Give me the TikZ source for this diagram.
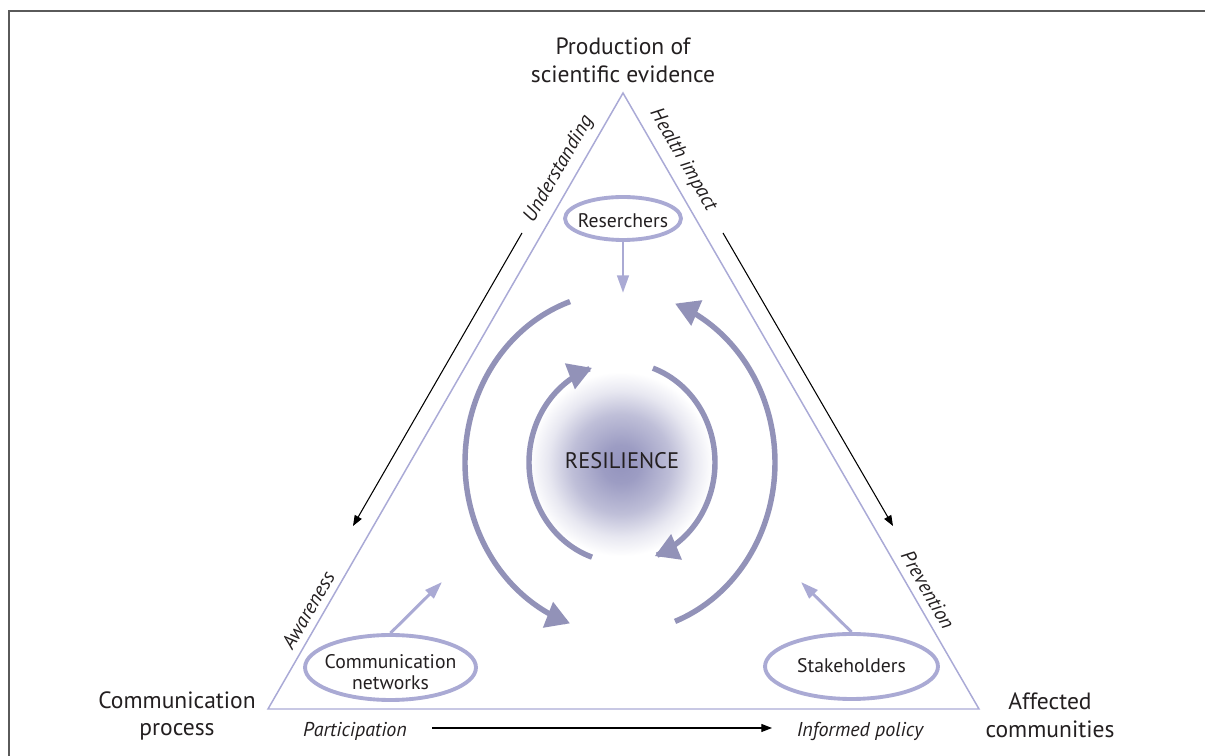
\documentclass[tikz,border=0pt]{standalone}
\usepackage{fontspec}
\setmainfont{PT Sans}
\usetikzlibrary{arrows.meta,shapes.geometric}
\definecolor{edgecol}{HTML}{AAAAD6}
\definecolor{ellcol}{HTML}{AAAAD4}
\definecolor{arccol}{HTML}{9292B8}
\definecolor{txtcol}{HTML}{231F20}
\definecolor{framecol}{HTML}{5A5A5A}
\definecolor{ballcol}{HTML}{9494BE}
\pgfdeclareradialshading{resball}{\pgfpoint{0bp}{0bp}}{color(0bp)=(ballcol); color(5bp)=(ballcol!92!white); color(13bp)=(ballcol!60!white); color(19bp)=(ballcol!22!white); color(24bp)=(white); color(50bp)=(white)}
\tikzset{
  bigtxt/.style={font=\fontsize{13.4}{15.9}\selectfont, text=txtcol, align=center, inner sep=0pt},
  itlab/.style={font=\itshape\fontsize{11.4}{13}\selectfont, text=txtcol, inner sep=0pt},
  actor/.style={ellipse, draw=ellcol, line width=2.2pt, inner sep=0pt},
  actortxt/.style={font=\fontsize{11.2}{11.6}\selectfont, text=txtcol, align=center, inner sep=0pt},
  flowarrow/.style={black, line width=0.6pt, -{Triangle[length=6pt,width=4.5pt]}},
  feedarrow/.style={ellcol, line width=1.7pt, -{Triangle[length=10pt,width=6.5pt]}},
  looparc/.style={arccol, line width=3.1pt, -{Triangle[length=13.5pt,width=15pt]}},
}
\begin{document}
\begin{tikzpicture}[x=0.02cm, y=-0.02cm]
\useasboundingbox (0,0) rectangle (1205,756);
% frame
\draw[framecol, line width=1.1pt] (9,756) -- (9,11) -- (1205,11);
% triangle
\coordinate (apex) at (623,93);
\coordinate (bl) at (268,709);
\coordinate (br) at (979,709);
\draw[edgecol, line width=0.85pt, line join=miter] (apex) -- (br) -- (bl) -- cycle;
% resilience ball
\shade[shading=resball] (621,464) circle[radius=96];
\node[bigtxt, font=\fontsize{12.8}{15}\selectfont] (res) at (622,461) {RESILIENCE};
% corner labels
\node[bigtxt] (prod) at (623,60) {Production of\\scientific evidence};
\node[bigtxt] (comm) at (177,716) {Communication\\process};
\node[bigtxt] (aff) at (1050,715) {Affected\\communities};
% edge labels
\node[itlab, rotate=60] (und) at (559,169) {Understanding};
\node[itlab, rotate=-60] (hea) at (683,160) {Health impact};
\node[itlab, rotate=60] (awa) at (308,610) {Awareness};
\node[itlab, rotate=-60] (pre) at (928,590) {Prevention};
\node[itlab, anchor=base] (par) at (355,737) {Participation};
\node[itlab, anchor=base] (inf) at (860,737) {Informed policy};
% black flow arrows
\coordinate (l1) at (522,233); \coordinate (l2) at (353,526);
\coordinate (r1) at (723,233); \coordinate (r2) at (893,526);
\coordinate (b1) at (432,728); \coordinate (b2) at (772,728);
\draw[flowarrow] (l1) -- (l2);
\draw[flowarrow] (r1) -- (r2);
\draw[flowarrow] (b1) -- (b2);
% actors
\node[actor, minimum width=2.32cm, minimum height=0.86cm] (rsr) at (623,218.5) {};
\node[actortxt] (rsrtxt) at (623,220.5) {Reserchers};
\node[actor, minimum width=3.42cm, minimum height=1.3cm] (cn) at (390.5,667.5) {};
\node[actortxt] (cntxt) at (390.5,672) {Communication\\networks};
\node[actor, minimum width=3.46cm, minimum height=1.3cm] (sh) at (851.5,666.5) {};
\node[actortxt] (shtxt) at (851.5,666) {Stakeholders};
\coordinate (rsrT) at (623,293);
\coordinate (cnT) at (442,582);
\coordinate (shT) at (801,582);
\draw[feedarrow] (rsr.south) -- (rsrT);
\draw[feedarrow] (cn.north) -- (cnT);
\draw[feedarrow] (sh.north) -- (shT);
% outer loop
\draw[looparc] plot[domain=251.2:108.8, samples=90] ({620+155*cos(\x)},{462.5+170*sin(\x)});
\draw[looparc] plot[domain=69.2:-69.2, samples=90] ({620+155*cos(\x)},{462.5+170*sin(\x)});
% inner loop
\draw[looparc] plot[domain=108.8:251.2, samples=90] ({622+93*cos(\x)},{462.5+100*sin(\x)});
\draw[looparc] plot[domain=-70.6:69.4, samples=90] ({622+93*cos(\x)},{462.5+100*sin(\x)});
\end{tikzpicture}
\end{document}
